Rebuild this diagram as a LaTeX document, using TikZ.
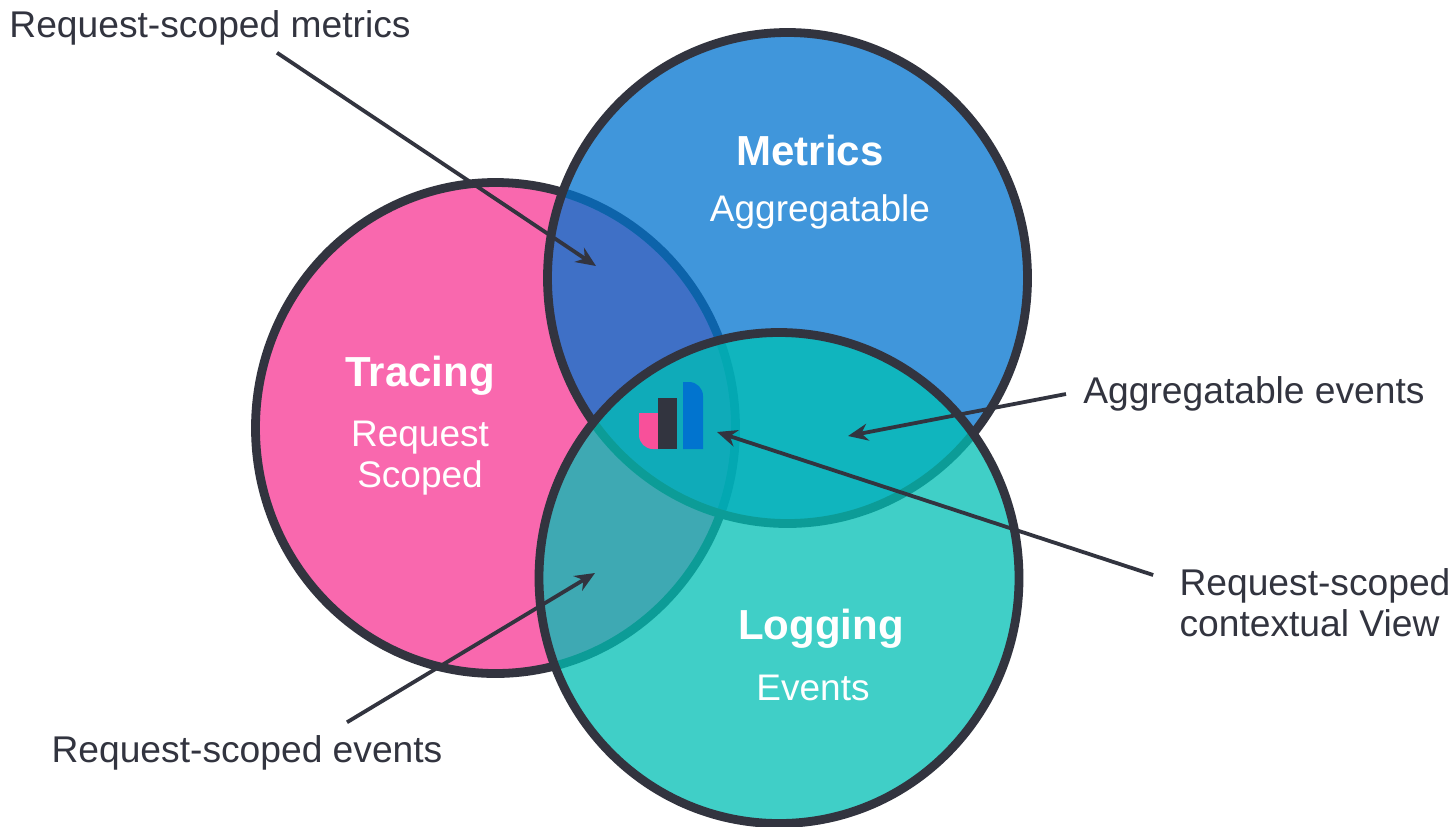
\documentclass[tikz,border=0pt]{standalone}
\usepackage{fontspec}
\setmainfont{Liberation Sans}
\usetikzlibrary{calc}
\usetikzlibrary{arrows.meta}
\usetikzlibrary{shapes.geometric}
\definecolor{inkdark}{HTML}{32343F}
\definecolor{tracepink}{HTML}{F968AE}
\definecolor{logopink}{HTML}{F8509A}
\definecolor{metricblue}{HTML}{0174CF}
\definecolor{logteal}{HTML}{00C0B5}
\tikzset{venn/.style={draw=inkdark,line width=4.4pt,ellipse,inner sep=0pt,outer sep=0pt,minimum width=240pt,minimum height=245.5pt,fill=#1,fill opacity=0.75,draw opacity=1}}
\tikzset{title/.style={color=white,font=\bfseries\fontsize{21}{25}\selectfont,inner sep=0pt}}
\tikzset{subtitle/.style={color=white,font=\fontsize{18.5}{20.5}\selectfont,inner sep=0pt,align=center}}
\tikzset{caption/.style={color=inkdark,font=\fontsize{18.6}{20.5}\selectfont,inner sep=0pt,align=left}}
\tikzset{pointer/.style={color=inkdark,line width=1.9pt,-{Stealth[length=10pt,width=8.5pt]}}}

\begin{document}
\begin{tikzpicture}[x=0.5pt,y=-0.5pt]
	\useasboundingbox (0,0) rectangle (1456,826);
	\fill [white] (0,0) rectangle (1456,826);

	\node [venn=tracepink,fill opacity=1] (tracing) at (495.5,428) {};
	\node [venn=metricblue] (metrics) at (787.5,278) {};
	\node [venn=logteal] (logging) at (779,578) {};

	% logo in the middle
	\fill [color=logopink] (658,449) [rounded corners=7pt] -- (639,449) [sharp corners] -- (639,413) -- (658,413) -- cycle;
	\fill [color=inkdark] (658,398) rectangle (677,449);
	\fill [color=metricblue] (683,449) -- (683,382) [rounded corners=7pt] -- (703,382) [sharp corners] -- (703,449) -- cycle;

	\node [title] (tracingname) at (420,376) {Tracing};
	\node [subtitle] (tracingsub) at (420,458) {Request\\Scoped};
	\node [title] (metricsname) at (810,150) {Metrics};
	\node [subtitle] (metricssub) at (820,212) {Aggregatable};
	\node [title] (loggingname) at (821,629) {Logging};
	\node [subtitle] (loggingsub) at (813,688) {Events};

	\node [caption] (scopedmetrics) at (210,28) {Request-scoped metrics};
	\node [caption] (aggevents) at (1254,394) {Aggregatable events};
	\node [caption] (contextview) at (1315,603) {Request-scoped\\contextual View};
	\node [caption] (scopedevents) at (247,753) {Request-scoped events};

	\coordinate (metricstip) at (596,266);
	\coordinate (aggtip) at (848,436);
	\coordinate (contexttip) at (717,432);
	\coordinate (eventstip) at (595,573);

	\draw [pointer] ($(scopedmetrics.south)+(67,7)$) -- (metricstip);
	\draw [pointer] ($(aggevents.west)+(-17,0)$) -- (aggtip);
	\draw [pointer] ($(contextview.west)+(-26,-28)$) -- (contexttip);
	\draw [pointer] ($(scopedevents.north)+(100,-13)$) -- (eventstip);
\end{tikzpicture}
\end{document}
